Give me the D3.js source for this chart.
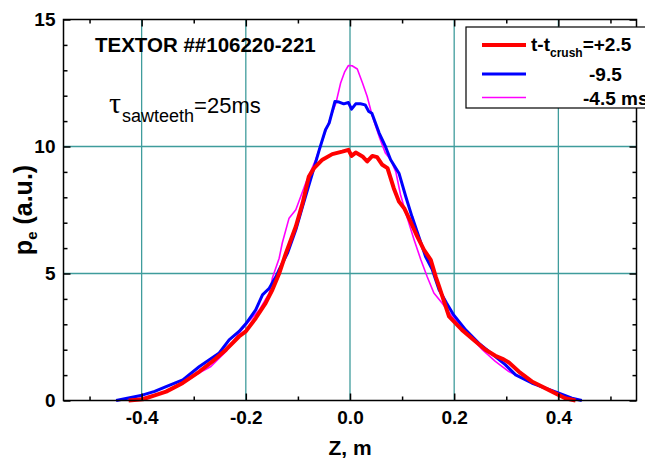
<!DOCTYPE html>
<html>
<head>
<meta charset="utf-8">
<script src="https://cdn.jsdelivr.net/npm/d3@7"></script>
<style>
  body { margin: 0; background: #fff; }
  svg { display: block; font-family: "Liberation Sans", Arial, sans-serif; }
</style>
</head>
<body>
<div class="chart"></div>
<script>
// values
const zRed = [-0.425, -0.398, -0.375, -0.353, -0.321, -0.289, -0.264, -0.238, -0.213, -0.200, -0.181, -0.162, -0.149, -0.136, -0.123, -0.104, -0.091, -0.079, -0.069, -0.053, -0.034, -0.015, -0.003, 0.003, 0.011, 0.024, 0.033, 0.043, 0.052, 0.062, 0.072, 0.075, 0.084, 0.094, 0.104, 0.116, 0.129, 0.142, 0.155, 0.165, 0.171, 0.190, 0.215, 0.241, 0.260, 0.279, 0.295, 0.305, 0.324, 0.349, 0.388, 0.413, 0.433]
const pRed = [0.0, 0.05, 0.2, 0.35, 0.69, 1.14, 1.54, 2.0, 2.52, 2.72, 3.24, 3.83, 4.36, 5.0, 5.8, 6.85, 7.77, 8.82, 9.15, 9.48, 9.70, 9.80, 9.87, 9.63, 9.76, 9.61, 9.41, 9.63, 9.58, 9.28, 9.15, 8.95, 8.36, 7.83, 7.57, 7.05, 6.46, 5.93, 5.54, 4.85, 4.49, 3.31, 2.78, 2.32, 2.0, 1.76, 1.62, 1.50, 1.14, 0.75, 0.35, 0.09, 0.0]

const zBlue = [-0.449, -0.43, -0.399, -0.375, -0.353, -0.321, -0.289, -0.270, -0.251, -0.232, -0.213, -0.200, -0.181, -0.168, -0.155, -0.142, -0.136, -0.120, -0.104, -0.091, -0.072, -0.059, -0.047, -0.040, -0.029, -0.021, -0.012, -0.003, 0.003, 0.011, 0.020, 0.029, 0.036, 0.042, 0.056, 0.068, 0.078, 0.094, 0.107, 0.119, 0.132, 0.145, 0.158, 0.171, 0.185, 0.199, 0.222, 0.247, 0.279, 0.298, 0.318, 0.349, 0.375, 0.401, 0.426, 0.445]
const pBlue = [0.0, 0.08, 0.21, 0.36, 0.55, 0.81, 1.34, 1.60, 1.87, 2.39, 2.72, 3.02, 3.57, 4.16, 4.42, 4.88, 5.15, 5.80, 6.72, 7.64, 8.95, 9.87, 10.66, 10.92, 11.77, 11.75, 11.68, 11.73, 11.47, 11.68, 11.68, 11.64, 11.38, 11.31, 10.53, 10.0, 9.48, 8.95, 8.03, 7.24, 6.46, 5.67, 5.15, 4.36, 3.85, 3.37, 2.78, 2.26, 1.73, 1.41, 1.01, 0.69, 0.49, 0.29, 0.09, 0.0]

const zMag = [-0.449, -0.42, -0.400, -0.353, -0.328, -0.296, -0.267, -0.238, -0.213, -0.200, -0.174, -0.155, -0.149, -0.136, -0.130, -0.117, -0.104, -0.085, -0.066, -0.047, -0.027, -0.018, -0.010, -0.003, 0.004, 0.014, 0.024, 0.033, 0.043, 0.056, 0.068, 0.078, 0.088, 0.097, 0.110, 0.123, 0.136, 0.148, 0.161, 0.177, 0.196, 0.222, 0.254, 0.279, 0.305, 0.324, 0.349, 0.388, 0.413, 0.445]
const pMag = [0.0, 0.03, 0.09, 0.35, 0.58, 1.01, 1.34, 1.93, 2.65, 2.98, 3.57, 4.23, 4.82, 5.6, 6.2, 7.18, 7.51, 8.56, 9.48, 10.6, 11.71, 12.5, 12.95, 13.19, 13.18, 13.05, 12.5, 11.97, 11.18, 10.39, 9.74, 9.48, 9.0, 8.10, 7.18, 6.33, 5.54, 4.88, 4.23, 3.83, 3.31, 2.72, 2.0, 1.54, 1.14, 0.94, 0.69, 0.35, 0.16, 0.0]

const xMajor = [-0.4, -0.2, 0.0, 0.2, 0.4]
const xMinor = [-0.5, -0.3, -0.1, 0.1, 0.3, 0.5]
const yMajor = [0, 5, 10, 15]
const yMinor = [1, 2, 3, 4, 6, 7, 8, 9, 11, 12, 13, 14]

const width = 645
const height = 463
const margin = { top: 19.5, right: 8.5, bottom: 62.5, left: 63.5 }
const w = width - margin.left - margin.right
const h = height - margin.top - margin.bottom
const grid = '#3f9c9c'

let x = d3.scaleLinear().domain([-0.55, 0.55]).range([0, w])
let y = d3.scaleLinear().domain([0, 15]).range([h, 0])

let svg = d3.select('.chart')
  .append('svg')
  .attr('width', width)
  .attr('height', height)

let g = svg.append('g')
  .attr('transform', 'translate(' + margin.left + ',' + margin.top + ')')

// grid
g.selectAll('.vgrid')
  .data(xMajor)
  .enter()
  .append('line')
  .attr('x1', d => x(d)).attr('x2', d => x(d))
  .attr('y1', 0).attr('y2', h)
  .attr('stroke', grid)
  .attr('stroke-width', 1.3)

g.selectAll('.hgrid')
  .data([5, 10])
  .enter()
  .append('line')
  .attr('x1', 0).attr('x2', w)
  .attr('y1', d => y(d)).attr('y2', d => y(d))
  .attr('stroke', grid)
  .attr('stroke-width', 1.3)

// curves
const line = d3.line().x(d => x(d[0])).y(d => y(d[1]))
const series = [
  { z: zMag, p: pMag, color: '#ff00ff', sw: 1.6 },
  { z: zBlue, p: pBlue, color: '#0000ff', sw: 3 },
  { z: zRed, p: pRed, color: '#ff0000', sw: 4 }
]
series.forEach(s => {
  g.append('path')
    .datum(s.z.map((v, i) => [v, s.p[i]]))
    .attr('d', line)
    .attr('fill', 'none')
    .attr('stroke', s.color)
    .attr('stroke-width', s.sw)
    .attr('stroke-linejoin', 'round')
})

// axes (ticks inward, on all four sides)
const fmtX = d => d3.format('.1f')(d).replace('−', '-')
function styleAxis(sel, fs) {
  sel.select('.domain').remove()
  sel.selectAll('line').attr('stroke', '#000').attr('stroke-width', 1.5)
  sel.selectAll('text')
    .attr('fill', '#000')
    .style('font-size', fs + 'px')
    .style('font-weight', 'bold')
    .style('font-family', '"Liberation Sans", Arial, sans-serif')
}

g.append('g').attr('transform', 'translate(0,' + h + ')')
  .call(d3.axisBottom(x).tickValues(xMajor).tickSize(-7).tickPadding(10).tickFormat(fmtX))
  .call(s => styleAxis(s, 19))
g.append('g').attr('transform', 'translate(0,' + h + ')')
  .call(d3.axisBottom(x).tickValues(xMinor).tickSize(-4).tickFormat(''))
  .call(s => styleAxis(s, 19))
g.append('g')
  .call(d3.axisTop(x).tickValues(xMajor).tickSize(-7).tickFormat(''))
  .call(s => styleAxis(s, 19))
g.append('g')
  .call(d3.axisTop(x).tickValues(xMinor).tickSize(-4).tickFormat(''))
  .call(s => styleAxis(s, 19))

g.append('g')
  .call(d3.axisLeft(y).tickValues(yMajor).tickSize(-7).tickPadding(8).tickFormat(d3.format('d')))
  .call(s => styleAxis(s, 19))
g.append('g')
  .call(d3.axisLeft(y).tickValues(yMinor).tickSize(-4).tickFormat(''))
  .call(s => styleAxis(s, 19))
g.append('g').attr('transform', 'translate(' + w + ',0)')
  .call(d3.axisRight(y).tickValues(yMajor).tickSize(-7).tickFormat(''))
  .call(s => styleAxis(s, 19))
g.append('g').attr('transform', 'translate(' + w + ',0)')
  .call(d3.axisRight(y).tickValues(yMinor).tickSize(-4).tickFormat(''))
  .call(s => styleAxis(s, 19))

// frame
g.append('rect')
  .attr('width', w).attr('height', h)
  .attr('fill', 'none')
  .attr('stroke', '#000')
  .attr('stroke-width', 1.5)

// axis titles
svg.append('text')
  .attr('x', margin.left + x(0))
  .attr('y', 455)
  .attr('text-anchor', 'middle')
  .style('font-size', '21px')
  .style('font-weight', 'bold')
  .text('Z, m')

let yl = svg.append('text')
  .attr('transform', 'translate(32,' + (margin.top + h / 2) + ') rotate(-90)')
  .attr('text-anchor', 'middle')
  .style('font-size', '25px')
  .style('font-weight', 'bold')
yl.append('tspan').text('p')
yl.append('tspan').attr('dy', 5).style('font-size', '15px').text('e')
yl.append('tspan').attr('dy', -5).text(' (a.u.)')

// annotations
svg.append('text')
  .attr('x', 95).attr('y', 52)
  .style('font-size', '20.5px')
  .style('font-weight', 'bold')
  .text('TEXTOR ##106220-221')

let tau = svg.append('text')
  .attr('x', 109).attr('y', 113)
tau.append('tspan').style('font-size', '30px').style('font-family', '"Liberation Serif", "DejaVu Serif", serif').text('τ')
tau.append('tspan').attr('dx', 1).attr('dy', 9).style('font-size', '18px').text('sawteeth')
tau.append('tspan').attr('dy', -9).style('font-size', '22px').text('=25ms')

// legend
let legend = svg.append('g')
legend.append('rect')
  .attr('x', 466).attr('y', 27)
  .attr('width', 200).attr('height', 81)
  .attr('fill', '#fff')
  .attr('stroke', '#000')
  .attr('stroke-width', 1.2)

const legRows = [
  { color: '#ff0000', sw: 4, y: 45 },
  { color: '#0000ff', sw: 3, y: 74 },
  { color: '#ff00ff', sw: 1.6, y: 97.5 }
]
legend.selectAll('.ll')
  .data(legRows)
  .enter()
  .append('line')
  .attr('x1', 482).attr('x2', 526)
  .attr('y1', d => d.y).attr('y2', d => d.y)
  .attr('stroke', d => d.color)
  .attr('stroke-width', d => d.sw)

let lt = legend.append('text')
  .attr('x', 531).attr('y', 51)
  .style('font-size', '19px')
  .style('font-weight', 'bold')
lt.append('tspan').text('t-t')
lt.append('tspan').attr('dy', 6).style('font-size', '12px').text('crush')
lt.append('tspan').attr('dy', -6).text('=+2.5')

legend.append('text')
  .attr('x', 589).attr('y', 81)
  .style('font-size', '19px')
  .style('font-weight', 'bold')
  .text('-9.5')

legend.append('text')
  .attr('x', 583).attr('y', 105)
  .style('font-size', '19px')
  .style('font-weight', 'bold')
  .text('-4.5 ms')
</script>
</body>
</html>
